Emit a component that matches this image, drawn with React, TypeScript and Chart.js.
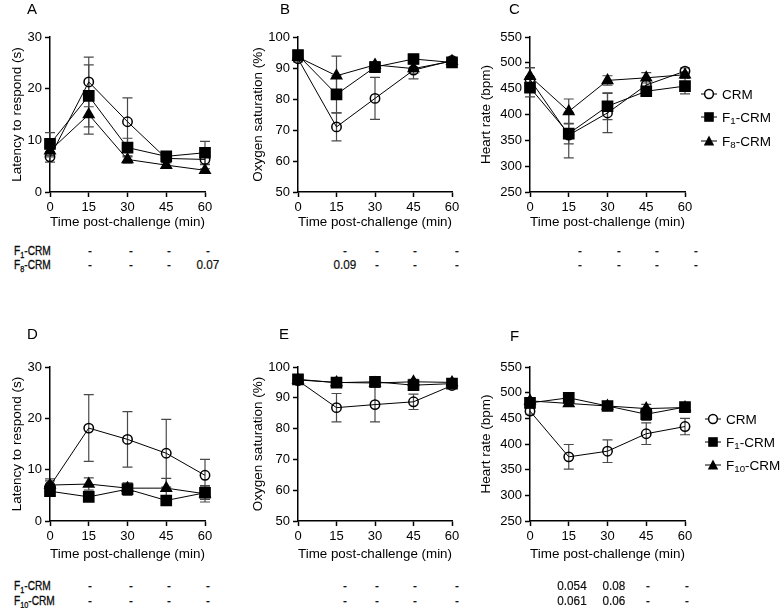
import React, { useEffect, useRef } from 'react';
import { Chart, registerables } from 'chart.js';

Chart.register(...registerables);

// ---------- DATA ----------
const times = [0, 15, 30, 45, 60];

// Panel A – latency (s)
const aCRM = [6.8, 21.3, 13.6, 6.5, 6.3];
const aCRMErr = [1.0, 4.8, 4.6, 0.8, 1.0];
const aF1 = [9.3, 18.6, 8.6, 6.9, 7.6];
const aF1Err = [2.2, 6.0, 1.8, 0.8, 2.2];
const aF8 = [8.0, 15.0, 6.3, 5.2, 4.2];
const aF8Err = [1.2, 3.8, 0.7, 0.5, 0.3];

// Panel B – oxygen saturation (%)
const bCRM = [93.0, 71.0, 80.2, 89.3, 92.4];
const bCRMErr = [1.0, 4.5, 6.8, 2.8, 0.8];
const bF1 = [94.2, 81.5, 90.3, 92.9, 91.8];
const bF1Err = [1.0, 6.0, 1.0, 0.8, 0.8];
const bF8 = [93.5, 87.5, 91.0, 89.8, 92.2];
const bF8Err = [1.0, 6.3, 1.0, 1.5, 0.6];

// Panel C – heart rate (bpm)
const cCRM = [468, 360, 403, 457, 484];
const cCRMErr = [22, 44, 38, 10, 6];
const cF1 = [452, 363, 416, 445, 455];
const cF1Err = [18, 20, 26, 5, 15];
const cF8 = [474, 406, 466, 471, 477];
const cF8Err = [17, 24, 9, 10, 5];

// Panel D – latency (s)
const dCRM = [6.8, 18.1, 15.9, 13.2, 8.9];
const dCRMErr = [1.4, 6.5, 5.4, 6.6, 3.1];
const dF1 = [5.8, 4.7, 6.2, 4.0, 5.5];
const dF1Err = [0.6, 0.5, 1.2, 0.4, 1.3];
const dF10 = [7.0, 7.2, 6.4, 6.4, 5.3];
const dF10Err = [0.8, 1.2, 1.0, 1.9, 1.6];

// Panel E – oxygen saturation (%)
const eCRM = [95.6, 86.8, 87.8, 88.7, 94.0];
const eCRMErr = [0.8, 4.6, 5.6, 2.5, 0.8];
const eF1 = [96.0, 94.9, 95.2, 94.1, 94.6];
const eF1Err = [0.8, 0.6, 0.8, 0.6, 0.5];
const eF10 = [95.8, 95.0, 94.8, 95.2, 95.0];
const eF10Err = [0.6, 0.6, 0.8, 0.8, 0.5];

// Panel F – heart rate (bpm)
const fCRM = [464, 375, 386, 420, 434];
const fCRMErr = [6, 24, 22, 21, 16];
const fF1 = [480, 490, 474, 458, 472];
const fF1Err = [8, 5, 8, 12, 4];
const fF10 = [484, 479, 474, 469, 471];
const fF10Err = [6, 4, 5, 8, 3];

// p-value tables (columns 15, 30, 45, 60 min)
const tA_F1 = ['-', '-', '-', '-'];
const tA_F8 = ['-', '-', '-', '0.07'];
const tB_F1 = ['-', '-', '-', '-'];
const tB_F8 = ['0.09', '-', '-', '-'];
const tC_F1 = ['-', '-', '-', '-'];
const tC_F8 = ['-', '-', '-', '-'];
const tD_F1 = ['-', '-', '-', '-'];
const tD_F10 = ['-', '-', '-', '-'];
const tE_F1 = ['-', '-', '-', '-'];
const tE_F10 = ['-', '-', '-', '-'];
const tF_F1 = ['0.054', '0.08', '-', '-'];
const tF_F10 = ['0.061', '0.06', '-', '-'];

const xTitle = 'Time post-challenge (min)';
const FONT = "'Liberation Sans', Arial, Helvetica, sans-serif";

// ---------- error bar plugin ----------
const errorBarPlugin = {
  id: 'errorBars',
  beforeDatasetsDraw(chart: any) {
    const ctx = chart.ctx;
    const xs = chart.scales.x;
    const ys = chart.scales.y;
    chart.data.datasets.forEach((ds: any) => {
      const errs = ds.errors;
      if (!errs) return;
      ds.data.forEach((p: any, i: number) => {
        const e = errs[i];
        if (!e) return;
        const x = xs.getPixelForValue(p.x);
        const yT = ys.getPixelForValue(p.y + e);
        const yB = ys.getPixelForValue(p.y - e);
        ctx.save();
        ctx.strokeStyle = '#4a4a4a';
        ctx.lineWidth = 1.2;
        ctx.beginPath();
        ctx.moveTo(x, yT);
        ctx.lineTo(x, yB);
        ctx.moveTo(x - 5, yT);
        ctx.lineTo(x + 5, yT);
        ctx.moveTo(x - 5, yB);
        ctx.lineTo(x + 5, yB);
        ctx.stroke();
        ctx.restore();
      });
    });
  },
};

type Series = { label: string; values: number[]; errors: number[]; kind: 'circle' | 'rect' | 'triangle' };

type PanelSpec = {
  left: number;
  top: number;
  width: number;
  height: number;
  yW: number;
  xH: number;
  plotTop: number;
  rightPad: number;
  yTitlePad: number;
  yMin: number;
  yMax: number;
  yStep: number;
  yTitle: string;
  series: Series[];
};

function styleFor(kind: Series['kind']) {
  if (kind === 'circle') return { pointStyle: 'circle', pointRadius: 4.7, pointBackgroundColor: 'rgba(255,255,255,0)' };
  if (kind === 'rect') return { pointStyle: 'rect', pointRadius: 7.2, pointBackgroundColor: '#000' };
  return { pointStyle: 'triangle', pointRadius: 6, pointBackgroundColor: '#000' };
}

function ChartPanel({ spec }: { spec: PanelSpec }) {
  const ref = useRef<HTMLCanvasElement | null>(null);
  useEffect(() => {
    if (!ref.current) return;
    const datasets = spec.series.map((s) => ({
      label: s.label,
      data: times.map((t, i) => ({ x: t, y: s.values[i] })),
      errors: s.errors,
      borderColor: '#000',
      borderWidth: 1,
      pointBorderColor: '#000',
      pointBorderWidth: 1.5,
      clip: false,
      tension: 0,
      fill: false,
      ...styleFor(s.kind),
    }));
    const chart = new Chart(ref.current, {
      type: 'line',
      data: { datasets } as any,
      options: {
        responsive: false,
        animation: false,
        devicePixelRatio: 1,
        layout: { padding: { top: spec.plotTop, right: spec.rightPad, left: 0, bottom: 0 } },
        plugins: { legend: { display: false }, tooltip: { enabled: false } },
        scales: {
          x: {
            type: 'linear',
            min: 0,
            max: 60,
            ticks: { stepSize: 15, color: '#000', font: { size: 13, family: FONT }, padding: 3, maxRotation: 0 },
            grid: { drawOnChartArea: false, tickLength: 5, tickColor: '#000', tickWidth: 1.5 },
            border: { color: '#000', width: 1.5 },
            title: { display: true, text: xTitle, color: '#000', font: { size: 13.5, family: FONT }, padding: { top: 0, bottom: 5 } },
            afterFit: (s: any) => {
              s.height = spec.xH;
            },
          },
          y: {
            type: 'linear',
            min: spec.yMin,
            max: spec.yMax,
            ticks: { stepSize: spec.yStep, color: '#000', font: { size: 13, family: FONT }, padding: 3 },
            grid: { drawOnChartArea: false, tickLength: 5, tickColor: '#000', tickWidth: 1.5 },
            border: { color: '#000', width: 1.5 },
            title: { display: true, text: spec.yTitle, color: '#000', font: { size: 13.5, family: FONT }, padding: { top: spec.yTitlePad, bottom: 0 } },
            afterFit: (s: any) => {
              s.width = spec.yW;
            },
          },
        },
      } as any,
      plugins: [errorBarPlugin],
    });
    return () => chart.destroy();
  }, [spec]);
  return (
    <canvas
      ref={ref}
      width={spec.width}
      height={spec.height}
      style={{ position: 'absolute', left: spec.left, top: spec.top, width: spec.width, height: spec.height }}
    />
  );
}

function Sub({ children }: { children: React.ReactNode }) {
  return <span style={{ fontSize: '0.72em', position: 'relative', top: '0.3em' }}>{children}</span>;
}

function Marker({ kind }: { kind: Series['kind'] }) {
  return (
    <svg width={16} height={12} style={{ display: 'block' }}>
      <line x1={0} y1={6} x2={16} y2={6} stroke="#000" strokeWidth={1} />
      {kind === 'circle' && <circle cx={8} cy={6} r={4.4} fill="#fff" stroke="#000" strokeWidth={1.5} />}
      {kind === 'rect' && <rect x={3.2} y={1.2} width={9.6} height={9.6} fill="#000" />}
      {kind === 'triangle' && <polygon points="8,0.5 13.2,10.5 2.8,10.5" fill="#000" />}
    </svg>
  );
}

function Legend({ x, ys, labels }: { x: number; ys: number[]; labels: { kind: Series['kind']; node: React.ReactNode }[] }) {
  return (
    <>
      {labels.map((l, i) => (
        <div
          key={i}
          style={{
            position: 'absolute',
            left: x,
            top: ys[i] - 8,
            height: 16,
            display: 'flex',
            alignItems: 'center',
            fontFamily: FONT,
            fontSize: 13.5,
            color: '#000',
            whiteSpace: 'nowrap',
          }}
        >
          <Marker kind={l.kind} />
          <span style={{ marginLeft: 5 }}>{l.node}</span>
        </div>
      ))}
    </>
  );
}

function TextAt({ x, y, children }: any) {
  return (
    <div
      style={{
        position: 'absolute',
        left: x,
        top: y,
        transform: 'translate(-50%, -50%) scaleX(0.9)',
        fontFamily: FONT,
        fontSize: 13,
        color: '#111',
        whiteSpace: 'nowrap',
        lineHeight: '14px',
        WebkitTextStroke: '0.2px #000',
      }}
    >
      {children}
    </div>
  );
}

function RowLabel({ x, y, children }: any) {
  return (
    <div
      style={{
        position: 'absolute',
        left: x,
        top: y,
        transform: 'translate(0, -50%) scaleX(0.78)',
        transformOrigin: 'left center',
        fontFamily: FONT,
        fontSize: 13,
        color: '#111',
        whiteSpace: 'nowrap',
        lineHeight: '14px',
        WebkitTextStroke: '0.3px #000',
      }}
    >
      {children}
    </div>
  );
}

function TableRow({ y, cols, values }: { y: number; cols: number[]; values: string[] }) {
  return (
    <>
      {values.map((v, i) => (
        <TextAt key={i} x={cols[i]} y={y}>
          {v}
        </TextAt>
      ))}
    </>
  );
}

const top = 0;
const bot = 330;

const specA: PanelSpec = {
  left: 0, top, width: 240, height: 235, yW: 50, xH: 43, plotTop: 37, rightPad: 35, yTitlePad: 9.4,
  yMin: 0, yMax: 30, yStep: 10, yTitle: 'Latency to respond (s)',
  series: [
    { label: 'CRM', values: aCRM, errors: aCRMErr, kind: 'circle' },
    { label: 'F1-CRM', values: aF1, errors: aF1Err, kind: 'rect' },
    { label: 'F8-CRM', values: aF8, errors: aF8Err, kind: 'triangle' },
  ],
};
const specB: PanelSpec = {
  left: 248, top, width: 240, height: 235, yW: 50, xH: 43, plotTop: 37, rightPad: 36, yTitlePad: 2,
  yMin: 50, yMax: 100, yStep: 10, yTitle: 'Oxygen saturation (%)',
  series: [
    { label: 'CRM', values: bCRM, errors: bCRMErr, kind: 'circle' },
    { label: 'F1-CRM', values: bF1, errors: bF1Err, kind: 'rect' },
    { label: 'F8-CRM', values: bF8, errors: bF8Err, kind: 'triangle' },
  ],
};
const specC: PanelSpec = {
  left: 470, top, width: 240, height: 235, yW: 60, xH: 43, plotTop: 37, rightPad: 25, yTitlePad: 8,
  yMin: 250, yMax: 550, yStep: 50, yTitle: 'Heart rate (bpm)',
  series: [
    { label: 'CRM', values: cCRM, errors: cCRMErr, kind: 'circle' },
    { label: 'F1-CRM', values: cF1, errors: cF1Err, kind: 'rect' },
    { label: 'F8-CRM', values: cF8, errors: cF8Err, kind: 'triangle' },
  ],
};
const specD: PanelSpec = {
  left: 0, top: bot, width: 240, height: 237, yW: 50, xH: 46, plotTop: 37, rightPad: 35, yTitlePad: 9.4,
  yMin: 0, yMax: 30, yStep: 10, yTitle: 'Latency to respond (s)',
  series: [
    { label: 'CRM', values: dCRM, errors: dCRMErr, kind: 'circle' },
    { label: 'F1-CRM', values: dF1, errors: dF1Err, kind: 'rect' },
    { label: 'F10-CRM', values: dF10, errors: dF10Err, kind: 'triangle' },
  ],
};
const specE: PanelSpec = {
  left: 248, top: bot, width: 240, height: 237, yW: 50, xH: 46, plotTop: 37, rightPad: 36, yTitlePad: 2,
  yMin: 50, yMax: 100, yStep: 10, yTitle: 'Oxygen saturation (%)',
  series: [
    { label: 'CRM', values: eCRM, errors: eCRMErr, kind: 'circle' },
    { label: 'F1-CRM', values: eF1, errors: eF1Err, kind: 'rect' },
    { label: 'F10-CRM', values: eF10, errors: eF10Err, kind: 'triangle' },
  ],
};
const specF: PanelSpec = {
  left: 470, top: bot, width: 240, height: 237, yW: 60, xH: 46, plotTop: 37, rightPad: 25, yTitlePad: 8,
  yMin: 250, yMax: 550, yStep: 50, yTitle: 'Heart rate (bpm)',
  series: [
    { label: 'CRM', values: fCRM, errors: fCRMErr, kind: 'circle' },
    { label: 'F1-CRM', values: fF1, errors: fF1Err, kind: 'rect' },
    { label: 'F10-CRM', values: fF10, errors: fF10Err, kind: 'triangle' },
  ],
};

const colsAD = [90, 131, 169, 208];
const colsBE = [345, 377, 415, 457];
const colsC = [580, 619, 657, 696];
const colsF = [572, 614, 648, 687];

export default function App() {
  const letterStyle = (x: number, y: number): React.CSSProperties => ({
    position: 'absolute', left: x, top: y, fontFamily: FONT, fontSize: 15, color: '#000', lineHeight: '16px',
  });
  return (
    <div style={{ position: 'fixed', left: 0, top: 0, width: 783, height: 608, background: '#fff', overflow: 'hidden' }}>
      <ChartPanel spec={specA} />
      <ChartPanel spec={specB} />
      <ChartPanel spec={specC} />
      <ChartPanel spec={specD} />
      <ChartPanel spec={specE} />
      <ChartPanel spec={specF} />

      <div style={letterStyle(27, 1)}>A</div>
      <div style={letterStyle(280, 1)}>B</div>
      <div style={letterStyle(509, 1)}>C</div>
      <div style={letterStyle(27, 326)}>D</div>
      <div style={letterStyle(279, 326)}>E</div>
      <div style={letterStyle(510, 328)}>F</div>

      <Legend
        x={701}
        ys={[94, 117, 141]}
        labels={[
          { kind: 'circle', node: 'CRM' },
          { kind: 'rect', node: <>F<Sub>1</Sub>-CRM</> },
          { kind: 'triangle', node: <>F<Sub>8</Sub>-CRM</> },
        ]}
      />
      <Legend
        x={705}
        ys={[419, 442, 465]}
        labels={[
          { kind: 'circle', node: 'CRM' },
          { kind: 'rect', node: <>F<Sub>1</Sub>-CRM</> },
          { kind: 'triangle', node: <>F<Sub>10</Sub>-CRM</> },
        ]}
      />

      {/* top tables */}
      <RowLabel x={14} y={251}>F<Sub>1</Sub>-CRM</RowLabel>
      <RowLabel x={14} y={265}>F<Sub>8</Sub>-CRM</RowLabel>
      <TableRow y={251} cols={colsAD} values={tA_F1} />
      <TableRow y={265} cols={colsAD} values={tA_F8} />
      <TableRow y={251} cols={colsBE} values={tB_F1} />
      <TableRow y={265} cols={colsBE} values={tB_F8} />
      <TableRow y={251} cols={colsC} values={tC_F1} />
      <TableRow y={265} cols={colsC} values={tC_F8} />

      {/* bottom tables */}
      <RowLabel x={14} y={586}>F<Sub>1</Sub>-CRM</RowLabel>
      <RowLabel x={14} y={601}>F<Sub>10</Sub>-CRM</RowLabel>
      <TableRow y={586} cols={colsAD} values={tD_F1} />
      <TableRow y={601} cols={colsAD} values={tD_F10} />
      <TableRow y={586} cols={colsBE} values={tE_F1} />
      <TableRow y={601} cols={colsBE} values={tE_F10} />
      <TableRow y={586} cols={colsF} values={tF_F1} />
      <TableRow y={601} cols={colsF} values={tF_F10} />
    </div>
  );
}
